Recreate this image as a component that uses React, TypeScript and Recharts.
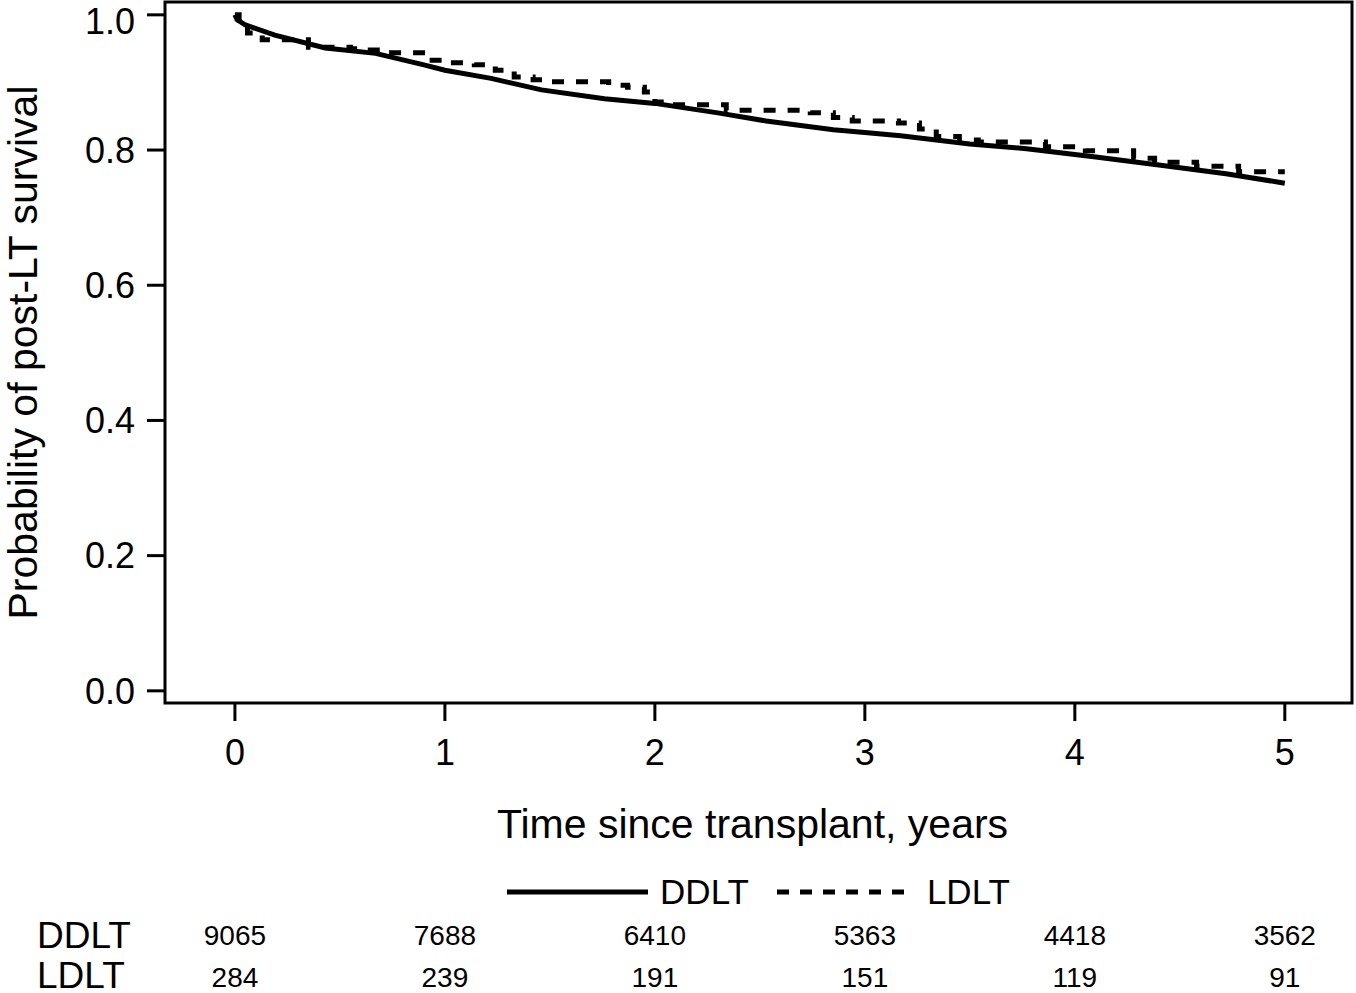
import React from "react";
import {
  LineChart,
  Line,
  XAxis,
  YAxis,
  Legend,
  ReferenceArea,
} from "recharts";

// Kaplan-Meier survival after liver transplant
const timeTicks = [0, 1, 2, 3, 4, 5];
const survivalTicks = [0, 0.2, 0.4, 0.6, 0.8, 1.0];

const ddltTime = [
  0, 0.01, 0.05, 0.19, 0.43, 0.67, 0.9, 1.0, 1.22, 1.46, 1.76, 2.0, 2.3, 2.53,
  2.85, 3.0, 3.17, 3.5, 3.77, 4.09, 4.4, 4.72, 5.0,
];
const ddltSurvival = [
  1.0, 0.993, 0.985, 0.97, 0.951, 0.943, 0.926, 0.918, 0.906, 0.889, 0.876,
  0.869, 0.855, 0.843, 0.83, 0.826, 0.821, 0.809, 0.802, 0.79, 0.778, 0.765,
  0.751,
];

const ldltTime = [
  0, 0.02, 0.06, 0.13, 0.35, 0.55, 0.63, 0.72, 0.92, 1.02, 1.14, 1.24, 1.33,
  1.42, 1.5, 1.78, 1.87, 1.95, 2.0, 2.08, 2.34, 2.74, 2.85, 2.94, 3.16, 3.26,
  3.34, 3.45, 3.54, 3.86, 4.05, 4.28, 4.38, 4.58, 4.78, 5.0,
];
const ldltSurvival = [
  1.0, 0.985, 0.973, 0.963, 0.952, 0.95, 0.948, 0.944, 0.933, 0.929, 0.926,
  0.918, 0.908, 0.904, 0.901, 0.896, 0.893, 0.886, 0.871, 0.867, 0.859, 0.855,
  0.848, 0.843, 0.84, 0.831, 0.82, 0.815, 0.812, 0.805, 0.799, 0.788, 0.782,
  0.776, 0.768, 0.768,
];

const atRiskDdlt = [9065, 7688, 6410, 5363, 4418, 3562];
const atRiskLdlt = [284, 239, 191, 151, 119, 91];

const ddltData = ddltTime.map((t, i) => ({ t, s: ddltSurvival[i] }));
const ldltData = ldltTime.map((t, i) => ({ t, s: ldltSurvival[i] }));

const FONT = '"Liberation Sans", Arial, sans-serif';
const X_DOMAIN = [-0.333, 5.32];
const Y_DOMAIN = [-0.018, 1.019];

const series = [
  { name: "DDLT", dash: undefined, lineWidth: 141, gapAfter: 28 },
  { name: "LDLT", dash: "12 11", lineWidth: 132, gapAfter: 0 },
];

function YTitle(props: any) {
  const vb = props.viewBox || { x: 0, y: 2, width: 165, height: 701 };
  const cx = 22;
  const cy = vb.y + vb.height / 2;
  return (
    <text
      x={cx}
      y={cy}
      dy="0.355em"
      transform={`rotate(-90, ${cx}, ${cy})`}
      textAnchor="middle"
      fontSize={41}
      fontFamily={FONT}
      fill="#000"
    >
      Probability of post-LT survival
    </text>
  );
}

function XTitle(props: any) {
  const vb = props.viewBox || { x: 165, y: 703, width: 1187, height: 135 };
  return (
    <text
      x={vb.x + vb.width / 2 - 6}
      y={vb.y + vb.height}
      textAnchor="middle"
      fontSize={41}
      fontFamily={FONT}
      fill="#000"
    >
      Time since transplant, years
    </text>
  );
}

function RiskTick(props: any) {
  const { x, y, payload } = props;
  const i = timeTicks.indexOf(payload.value);
  return (
    <g fontFamily={FONT} fill="#000">
      {i === 0 && (
        <>
          <text x={37} y={y + 110} fontSize={37}>
            DDLT
          </text>
          <text x={37} y={y + 150} fontSize={37}>
            LDLT
          </text>
        </>
      )}
      <text x={x} y={y + 107} textAnchor="middle" fontSize={28}>
        {atRiskDdlt[i]}
      </text>
      <text x={x} y={y + 149} textAnchor="middle" fontSize={28}>
        {atRiskLdlt[i]}
      </text>
    </g>
  );
}

function KmLegend() {
  return (
    <div
      style={{
        display: "flex",
        justifyContent: "center",
        alignItems: "center",
        height: 40,
        fontFamily: FONT,
        fontSize: 35,
        color: "#000",
      }}
    >
      {series.map((s) => (
        <div
          key={s.name}
          style={{ display: "flex", alignItems: "center", marginRight: s.gapAfter }}
        >
          <svg width={s.lineWidth} height={40} style={{ display: "block" }}>
            <line
              x1={0}
              y1={20}
              x2={s.lineWidth}
              y2={20}
              stroke="#000"
              strokeWidth={5}
              strokeDasharray={s.dash}
            />
          </svg>
          <span style={{ marginLeft: s.name === "DDLT" ? 12 : 18, lineHeight: "40px" }}>
            {s.name}
          </span>
        </div>
      ))}
    </div>
  );
}

export default function App() {
  return (
    <div style={{ position: "absolute", left: 0, top: 0, background: "#fff" }}>
      <LineChart
        width={1356}
        height={993}
        margin={{ top: 2, right: 4, left: 0, bottom: 0 }}
      >
        <XAxis
          xAxisId="risk"
          dataKey="t"
          type="number"
          domain={X_DOMAIN}
          ticks={timeTicks}
          allowDataOverflow
          interval={0}
          height={155}
          axisLine={false}
          tickLine={false}
          tickSize={0}
          tickMargin={0}
          tick={<RiskTick />}
        />
        <XAxis
          xAxisId="axisTime"
          dataKey="t"
          type="number"
          domain={X_DOMAIN}
          ticks={timeTicks}
          allowDataOverflow
          height={135}
          axisLine={false}
          tickLine={{ stroke: "#000", strokeWidth: 3 }}
          tickSize={18}
          tickMargin={18}
          tick={{ fill: "#000", fontSize: 36, fontFamily: FONT }}
          label={<XTitle />}
        />
        <YAxis
          type="number"
          domain={Y_DOMAIN}
          ticks={survivalTicks}
          allowDataOverflow
          width={165}
          axisLine={false}
          tickLine={{ stroke: "#000", strokeWidth: 3 }}
          tickSize={18}
          tickMargin={12}
          tickFormatter={(v: number) => v.toFixed(1)}
          tick={{ fill: "#000", fontSize: 36, fontFamily: FONT }}
          label={<YTitle />}
        />
        <ReferenceArea
          xAxisId="axisTime"
          x1={X_DOMAIN[0]}
          x2={X_DOMAIN[1]}
          y1={Y_DOMAIN[0]}
          y2={Y_DOMAIN[1]}
          ifOverflow="visible"
          fill="none"
          fillOpacity={0}
          stroke="#000"
          strokeWidth={3}
        />
        <Legend
          layout="horizontal"
          verticalAlign="middle"
          align="center"
          wrapperStyle={{ position: "absolute", top: 872, left: 165, width: 1187 }}
          content={<KmLegend />}
        />
        <Line
          xAxisId="axisTime"
          data={ddltData}
          dataKey="s"
          name="DDLT"
          type="linear"
          stroke="#000"
          strokeWidth={5}
          dot={false}
          activeDot={false}
          isAnimationActive={false}
        />
        <Line
          xAxisId="axisTime"
          data={ldltData}
          dataKey="s"
          name="LDLT"
          type="stepAfter"
          stroke="#000"
          strokeWidth={5}
          strokeDasharray="12 12"
          dot={false}
          activeDot={false}
          isAnimationActive={false}
        />
      </LineChart>
    </div>
  );
}
